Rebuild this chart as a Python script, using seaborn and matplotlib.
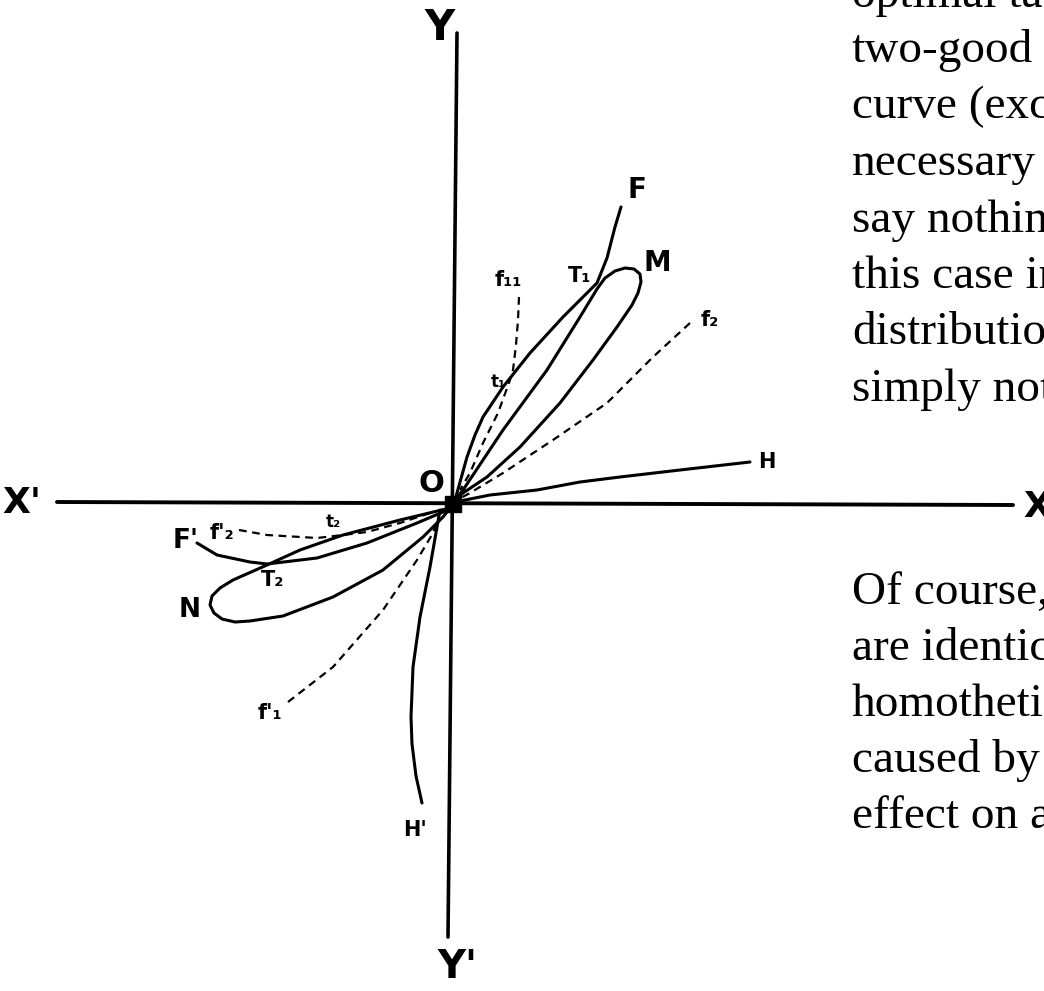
import pandas as pd
import matplotlib
matplotlib.use('Agg')
import matplotlib.pyplot as plt
import seaborn as sns

# diagram coordinates, origin at O
x_axis_x = [-396, 560]
x_axis_y = [2, -1]
y_axis_x = [4, -5]
y_axis_y = [471, -433]

# upper right quadrant
f_x = [2, 9, 14, 22, 30, 50, 77, 110, 144, 154, 162, 168]
f_y = [4, 29, 47, 69, 87, 117, 151, 187, 221, 246, 277, 297]
m_x = [2, 10, 50, 94, 127, 144, 152, 162, 172, 181, 187, 188, 185, 179, 164, 140, 107, 67, 34, 10, 2]
m_y = [4, 14, 74, 134, 187, 215, 226, 233, 236, 235, 230, 222, 211, 199, 177, 144, 101, 57, 27, 11, 4]
f11_x = [66, 65, 63, 60, 57, 45, 30, 17, 7]
f11_y = [207, 184, 159, 134, 124, 91, 61, 31, 14]
f2_x = [237, 200, 154, 100, 50, 17, 4]
f2_y = [181, 147, 101, 64, 31, 11, 4]
h_x = [2, 37, 84, 127, 167, 227, 297]
h_y = [2, 9, 14, 22, 27, 34, 42]

# lower left quadrant
fp_x = [-256, -236, -203, -186, -136, -86, -36, -10, -3]
fp_y = [-39, -51, -58, -60, -54, -39, -19, -8, -4]
n_x = [-3, -53, -110, -153, -186, -220, -233, -241, -243, -239, -231, -218, -203,
       -170, -120, -70, -30, -10, -3]
n_y = [-4, -16, -31, -46, -61, -76, -84, -92, -101, -109, -115, -118, -117,
       -112, -93, -66, -33, -13, -4]
f2p_x = [-214, -186, -136, -110, -86, -53, -20]
f2p_y = [-26, -31, -34, -31, -28, -19, -8]
f1p_x = [-165, -120, -70, -36, -20, -13]
f1p_y = [-198, -163, -106, -56, -29, -9]
hp_x = [-13, -23, -33, -40, -42, -41, -37, -31]
hp_y = [-6, -63, -113, -163, -213, -240, -272, -299]

text_top = ['optimal ta', 'two-good', 'curve (exc', 'necessary', 'say nothin',
            'this case in', 'distributio', 'simply not']
text_bottom = ['Of course,', 'are identic', 'homotheti', 'caused by', 'effect on a']

sns.set_theme(style='white')
plt.rcParams['font.family'] = ['DejaVu Sans']

fig = plt.figure(figsize=(10.44, 9.91), dpi=100)
ax = fig.add_axes([0, 0, 1, 1])


def draw(xs, ys, lw=2.2, dashed=False):
    df = pd.DataFrame({'x': xs, 'y': ys})
    ls = (0, (3.5, 2.5)) if dashed else '-'
    sns.lineplot(data=df, x='x', y='y', sort=False, estimator=None, color='black',
                 lw=lw, linestyle=ls, solid_capstyle='round', solid_joinstyle='round', ax=ax)


draw(x_axis_x, x_axis_y, lw=2.8)
draw(y_axis_x, y_axis_y, lw=2.6)
draw(f_x, f_y)
draw(m_x, m_y)
draw(f11_x, f11_y, lw=1.6, dashed=True)
draw(f2_x, f2_y, lw=1.6, dashed=True)
draw(h_x, h_y)
draw(fp_x, fp_y)
draw(n_x, n_y)
draw(f2p_x, f2p_y, lw=1.6, dashed=True)
draw(f1p_x, f1p_y, lw=1.6, dashed=True)
draw(hp_x, hp_y)
ax.plot([0], [0], marker='s', ms=11, color='black')

lab = dict(family='DejaVu Sans', weight='bold', color='black', ha='center', va='center')
ax.text(-13, 476, 'Y', fontsize=30, **lab)
ax.text(4, -463, "Y'", fontsize=28, **lab)
ax.text(-431, 1, "X'", fontsize=26, **lab)
ax.text(584, -3, 'X', fontsize=26, **lab)
ax.text(-22, 21, 'O', fontsize=22, **lab)
ax.text(184, 314, 'F', fontsize=20, **lab)
ax.text(204, 241, 'M', fontsize=20, **lab)
ax.text(127, 228, 'T\u2081', fontsize=15, **lab)
ax.text(55, 224, 'f\u2081\u2081', fontsize=15, **lab)
ax.text(45, 122, 't\u2081', fontsize=12, **lab)
ax.text(257, 184, 'f\u2082', fontsize=15, **lab)
ax.text(314, 42, 'H', fontsize=15, **lab)
ax.text(-267, -37, "F'", fontsize=19, **lab)
ax.text(-231, -29, "f'\u2082", fontsize=15, **lab)
ax.text(-120, -18, 't\u2082', fontsize=12, **lab)
ax.text(-180, -76, 'T\u2082', fontsize=15, **lab)
ax.text(-263, -106, 'N', fontsize=19, **lab)
ax.text(-183, -209, "f'\u2081", fontsize=15, **lab)
ax.text(-38, -326, "H'", fontsize=15, **lab)

body = dict(family='Liberation Serif', fontsize=34, color='black', ha='left', va='baseline')
ax.text(399, 504 - 7, text_top[0], **body)
for i, line in enumerate(text_top[1:]):
    ax.text(399, 504 - 62 - 56.5 * i, line, **body)
for i, line in enumerate(text_bottom):
    ax.text(399, 504 - 604 - 56 * i, line, **body)

ax.set_xlim(-453, 591)
ax.set_ylim(-487, 504)
ax.set_axis_off()

plt.savefig('out.png', dpi=100)
